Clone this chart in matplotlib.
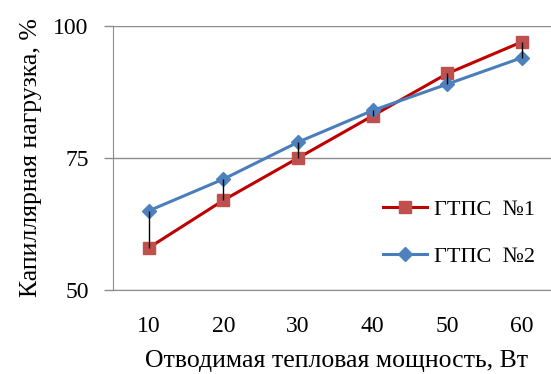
import numpy as np
import matplotlib.pyplot as plt

plt.rcParams['font.family'] = ['Liberation Serif', 'DejaVu Serif']

power = [10, 20, 30, 40, 50, 60]
gtps1 = [58, 67, 75, 83, 91, 97]
gtps2 = [65, 71, 78, 84, 89, 94]

fig = plt.figure(figsize=(5.51, 3.74), dpi=100)
ax = fig.add_axes([0.205, 0.2246, 0.813, 0.706])

x = np.arange(len(power))

# high-low lines between the two series
ax.vlines(x, np.minimum(gtps1, gtps2), np.maximum(gtps1, gtps2),
          color='black', lw=1, zorder=4)

ax.plot(x, gtps1, color='#C00000', lw=2.2, marker='s', ms=9,
        mfc='#C0504D', mec='#C0504D', label='ГТПС  №1', zorder=3)
ax.plot(x, gtps2, color='#4A7EBB', lw=2.2, marker='D', ms=7,
        mfc='#4F81BD', mec='#4F81BD', label='ГТПС  №2', zorder=3)

ax.set_xlim(-0.48, 5.52)
ax.set_ylim(50, 100)
ax.set_yticks([50, 75, 100])
ax.set_xticks(x)
ax.set_xticklabels([str(p) for p in power])

ax.grid(axis='y', color='#8c8c8c', lw=1)
ax.set_axisbelow(True)
for s in ['top', 'right']:
    ax.spines[s].set_visible(False)
ax.spines['left'].set_color('#8c8c8c')
ax.spines['bottom'].set_color('#8c8c8c')
ax.tick_params(axis='y', length=6.5, color='#8c8c8c', width=1, labelsize=17, pad=11)
ax.tick_params(axis='x', length=0, labelsize=17, pad=19)

ax.set_xlabel('Отводимая тепловая мощность, Вт', fontsize=18.5, labelpad=9)
ax.set_ylabel('Капиллярная нагрузка, %', fontsize=18.5, labelpad=8)

leg = ax.legend(loc='center left', bbox_to_anchor=(383 / 551, 1 - 233 / 374),
                bbox_transform=fig.transFigure, frameon=False,
                fontsize=16, handlelength=2.0, labelspacing=1.2,
                handletextpad=0.3, borderpad=0, borderaxespad=0)

fig.savefig('out.png', dpi=100)
